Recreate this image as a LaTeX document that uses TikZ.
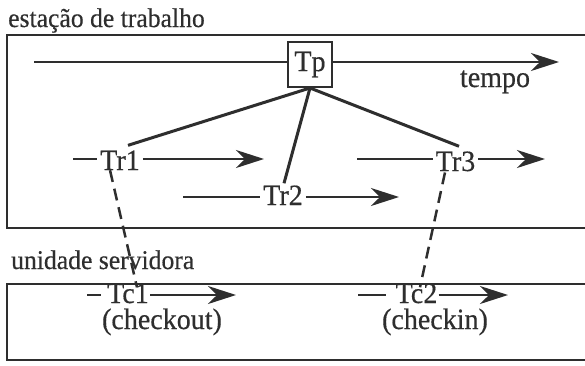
\documentclass[tikz,border=0pt]{standalone}
\usepackage{fontspec}
\setmainfont{Liberation Serif}[FakeStretch=0.95,FakeBold=0.4]
\usetikzlibrary{arrows.meta,calc}
\definecolor{ink}{HTML}{2E2E2E}
\begin{document}
\begin{tikzpicture}[x=1pt,y=-1pt,
  lbl/.style={font=\fontsize{29.5}{32}\selectfont, text=ink, inner sep=3pt},
  boxtitle/.style={font=\fontsize{27}{30}\selectfont, text=ink, inner sep=3pt},
  frame/.style={draw=ink, line width=2pt},
  ln/.style={draw=ink, line width=2pt},
  arr/.style={ln, -{Stealth[length=28pt,width=18pt,inset=9pt]}},
  spoke/.style={draw=ink, line width=3pt},
  dsh/.style={draw=ink, line width=2.5pt, dash pattern=on 12pt off 7pt},
]
\useasboundingbox (0,0) rectangle (585,365);
\clip (0,0) rectangle (585,365);
\fill[white] (0,0) rectangle (585,365);

% frames
\draw[frame] (600,35) -- (7,35) -- (7,228) -- (600,228);
\draw[frame] (600,284) -- (7,284) -- (7,360) -- (600,360);

% labels
\node[boxtitle, anchor=base west] (ws) at (5,27) {estação de trabalho};
\node[boxtitle, anchor=base west] (us) at (8,269) {unidade servidora};
\node[lbl, anchor=base] (tempo) at (495,87) {tempo};

% nodes
\node[lbl, draw=ink, line width=2pt, minimum width=44pt, minimum height=45pt, inner sep=0pt] (Tp) at (310,64.5) {Tp};
\node[lbl, anchor=base] (Tr1) at (120,170) {Tr1};
\node[lbl, anchor=base] (Tr2) at (283,205) {Tr2};
\node[lbl, anchor=base] (Tr3) at (455.5,171) {Tr3};
\node[lbl, anchor=base, inner sep=0pt] (Tc1) at (128,303) {Tc1};
\node[lbl, anchor=base, inner sep=0pt] (ck1) at (162,329) {(checkout)};
\node[lbl, anchor=base, inner sep=0pt] (Tc2) at (416.5,303) {Tc2};
\node[lbl, anchor=base, inner sep=0pt] (ck2) at (435,329) {(checkin)};

% time line
\coordinate (t0) at (34,62);
\coordinate (t1) at (559,62);
\draw[ln] (t0) -- (t0 -| Tp.west);
\draw[arr] (t0 -| Tp.east) -- (t1);

% spokes
\draw[spoke] (Tp.south) -- ($(Tr1.north)+(8,-2)$);
\draw[spoke] (Tp.south) -- ($(Tr2.north)+(1,1)$);
\draw[spoke] (Tp.south) -- ($(Tr3.north)+(3.5,-2)$);

% rows
\coordinate (r1a) at (73,159);
\coordinate (r1b) at (264,159);
\draw[ln] (r1a) -- (r1a -| Tr1.west);
\draw[arr] (r1b -| Tr1.east) -- (r1b);

\coordinate (r2a) at (183,197);
\coordinate (r2b) at (399,197);
\draw[ln] (r2a) -- (r2a -| Tr2.west);
\draw[arr] (r2b -| Tr2.east) -- (r2b);

\coordinate (r3a) at (357,159);
\coordinate (r3b) at (545,159);
\draw[ln] (r3a) -- (r3a -| Tr3.west);
\draw[arr] (r3b -| Tr3.east) -- (r3b);

\coordinate (c1a) at (87,295);
\coordinate (c1b) at (236,295);
\draw[ln] (c1a) -- ($(c1a -| Tc1.west)+(-6,0)$);
\draw[arr] ($(c1b -| Tc1.east)+(1,0)$) -- (c1b);

\coordinate (c2a) at (358,295);
\coordinate (c2b) at (508,295);
\draw[ln] (c2a) -- ($(c2a -| Tc2.west)+(-10,0)$);
\draw[arr] ($(c2b -| Tc2.east)+(1,0)$) -- (c2b);

% dashed links
\draw[dsh] ($(Tr1.south)+(-10,-3)$) -- ($(Tc1.north)+(9,4)$);
\draw[dsh] ($(Tr3.south)+(-10.5,-2)$) -- ($(Tc2.north)+(3.5,4)$);
\end{tikzpicture}
\end{document}
